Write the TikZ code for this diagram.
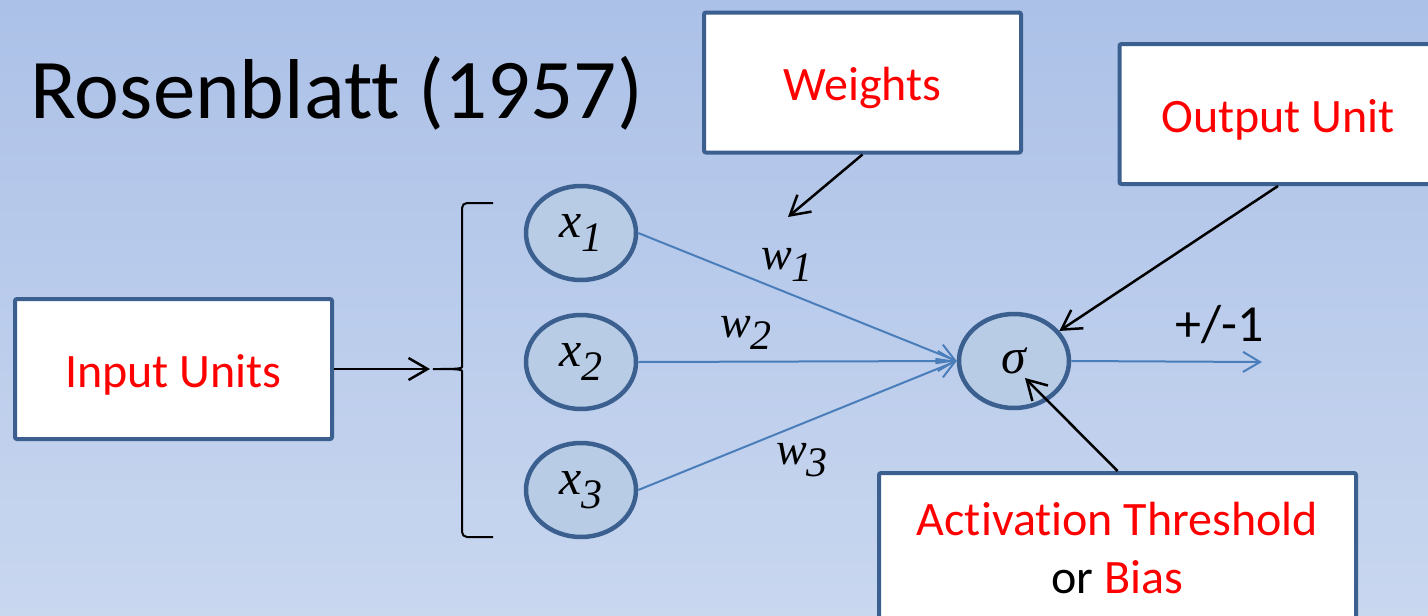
\documentclass[tikz,border=0pt]{standalone}
\usepackage{fontspec}
\setmainfont[Ligatures=NoCommon]{Carlito}
\newfontfamily\tnr{Liberation Serif}
\usetikzlibrary{arrows.meta,positioning,calc,shapes.geometric}
\definecolor{bgtop}{HTML}{ACC1E8}
\definecolor{bgbot}{HTML}{C9D7EF}
\definecolor{boxblue}{HTML}{3B5F8E}
\definecolor{unitfill}{HTML}{B8CCE6}
\definecolor{linkblue}{HTML}{4A7EBB}
\newcommand\vsub[2]{{\tnr\itshape #1\raisebox{-0.27em}{\fontsize{42}{42}\selectfont\itshape #2}}}

\begin{document}
\begin{tikzpicture}[x=1pt, y=-1pt,
  labelbox/.style={draw=boxblue, line width=4pt, fill=white, rounded corners=2pt,
    minimum width=317pt, minimum height=140pt, inner sep=0pt, align=center,
    text=red, font=\fontsize{48}{58}\selectfont},
  onebox/.style={labelbox, text height=36pt, text depth=0pt},
  unit/.style={ellipse, draw=boxblue, line width=4.5pt, fill=unitfill,
    minimum width=110pt, minimum height=94pt, inner sep=0pt, font=\fontsize{50}{50}\selectfont},
  link/.style={linkblue, line width=2pt, -{Straight Barb[length=17pt, width=20pt, line width=2pt]}},
  pointer/.style={black, line width=2.5pt, -{Straight Barb[length=19pt, width=22pt, line width=2.5pt]}},
  wlabel/.style={font=\fontsize{46}{46}\selectfont}]
\useasboundingbox (0,0) rectangle (1428,616);
\clip (0,0) rectangle (1428,616);
\shade[top color=bgtop, bottom color=bgbot] (0,0) rectangle (1428,616);

\node[anchor=base west, font=\fontsize{85}{85}\selectfont] (title) at (27,118) {Rosenblatt (1957)};

\node[onebox] (weights) at (862.5,82.5) {Weights};
\node[onebox] (outunit) at (1278,114) {Output Unit};
\node[onebox] (inunits) at (173.5,369) {Input Units};
\node[labelbox, minimum width=477pt, minimum height=150pt] (bias) at (1117.5,548)
  {Activation Threshold\\\textcolor{black}{or} Bias};

\node[unit] (x1) at (581,233) {\vsub{x}{1}};
\node[unit] (x2) at (581,362) {\vsub{x}{2}};
\node[unit] (x3) at (581,490) {\vsub{x}{3}};
\node[unit] (sig) at (1014,361) {\tnr\itshape σ};

\coordinate (brtip) at (430,369);
\draw[line width=2pt, rounded corners=5pt] (493,203) -- (462,203) -- (462,362)
  .. controls (462,369) and (450,369) .. (brtip)
  .. controls (450,369) and (462,369) .. (462,376) -- (462,537) -- (493,537);
\draw[pointer] (inunits) -- (brtip);

\draw[link] (x1.east) -- (sig.west);
\draw[link] (x2.east) -- (sig.west);
\draw[link] (x3.east) -- (sig.west);
\coordinate (out) at (1262,362);
\draw[link] (sig.east) -- (out);
\node[font=\fontsize{52}{52}\selectfont] (pm) at (1220,325) {+/-1};

\node[wlabel] (w1) at (787,265) {\vsub{w}{1}};
\node[wlabel] (w2) at (746,333) {\vsub{w}{2}};
\node[wlabel] (w3) at (802,460) {\vsub{w}{3}};

\coordinate (wtip) at (788,217);
\draw[pointer] (weights.south) -- (wtip);
\draw[pointer] (outunit.south) -- (sig);
\draw[pointer] (bias.north) -- ($(sig)+(11,17)$);
\end{tikzpicture}
\end{document}
